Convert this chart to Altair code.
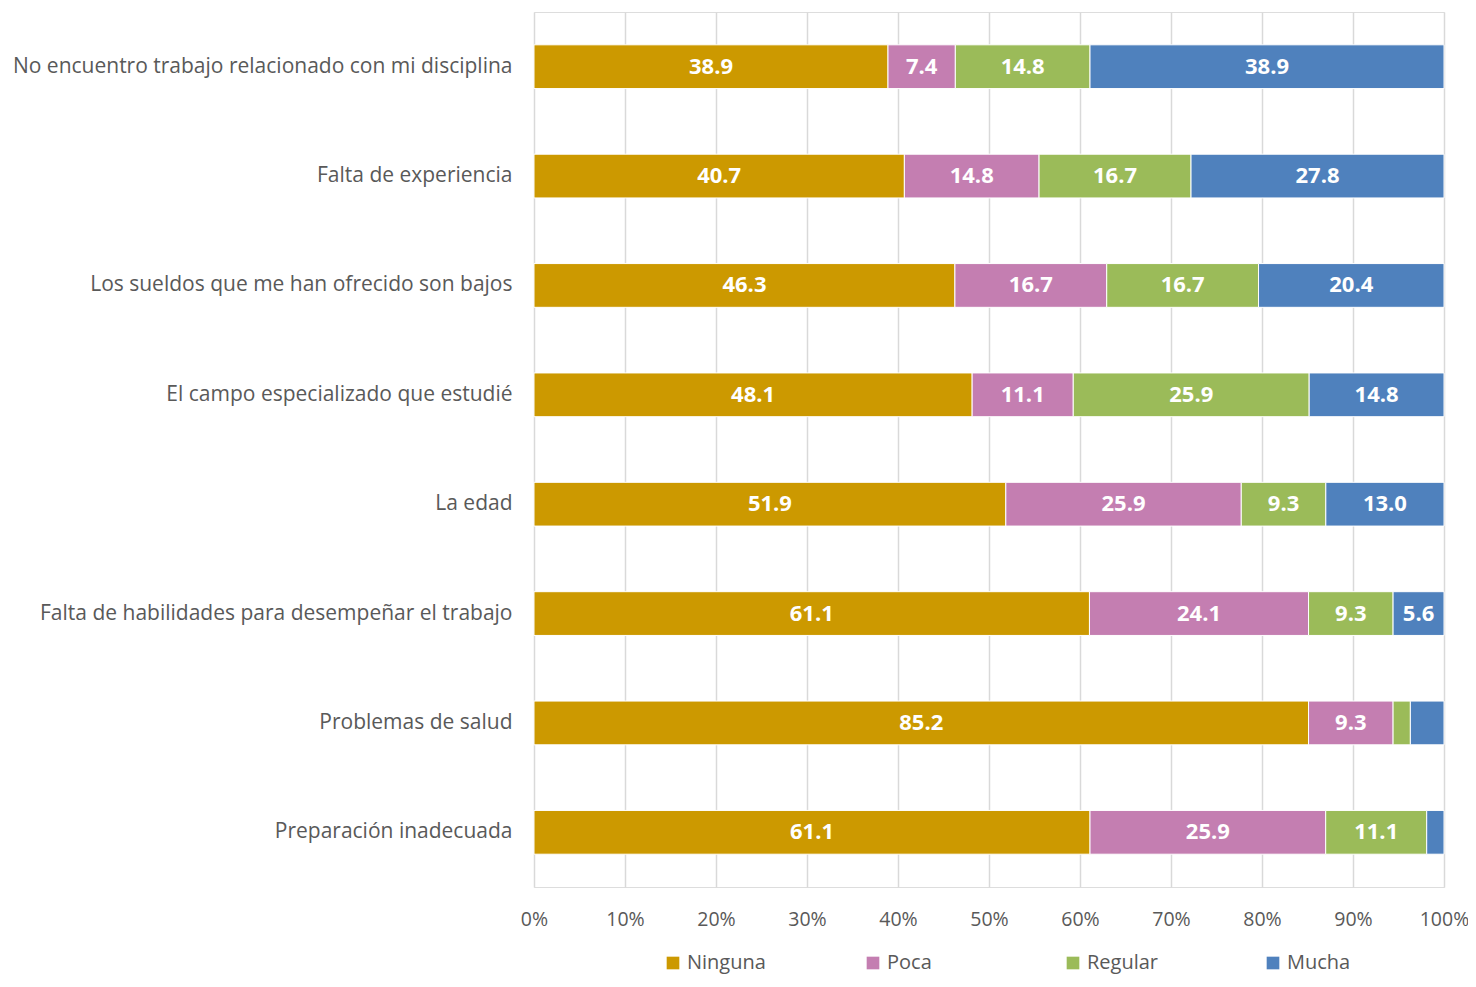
import altair as alt
import pandas as pd

categories = [
    "No encuentro trabajo relacionado con mi disciplina",
    "Falta de experiencia",
    "Los sueldos que me han ofrecido son bajos",
    "El campo especializado que estudié",
    "La edad",
    "Falta de habilidades para desempeñar el trabajo",
    "Problemas de salud",
    "Preparación inadecuada",
]
levels = ["Ninguna", "Poca", "Regular", "Mucha"]
ninguna = [38.9, 40.7, 46.3, 48.1, 51.9, 61.1, 85.2, 61.1]
poca = [7.4, 14.8, 16.7, 11.1, 25.9, 24.1, 9.3, 25.9]
regular = [14.8, 16.7, 16.7, 25.9, 9.3, 9.3, 1.9, 11.1]
mucha = [38.9, 27.8, 20.4, 14.8, 13.0, 5.6, 3.7, 1.9]
colors = ["#CC9900", "#C47EB1", "#9BBB59", "#4F81BD"]

rows = []
for series_idx, (lvl, vals) in enumerate(zip(levels, [ninguna, poca, regular, mucha])):
    for cat, v in zip(categories, vals):
        rows.append({"cat": cat, "level": lvl, "value": v, "ord": series_idx})
df = pd.DataFrame(rows)

FONT = "Open Sans"

base = alt.Chart(df).transform_stack(
    stack="value", groupby=["cat"], as_=["x0", "x1"], offset="normalize",
    sort=[alt.SortField("ord", order="ascending")]
).transform_calculate(mid="(datum.x0 + datum.x1) / 2")

y_enc = alt.Y("cat:N", sort=categories, title=None,
              scale=alt.Scale(paddingInner=0.6, paddingOuter=0.3),
              axis=alt.Axis(labelFont=FONT, labelFontSize=21, labelColor="#595959",
                            labelPadding=22, ticks=False, domain=False, labelLimit=600))

bars = base.mark_bar(stroke="white", strokeWidth=1).encode(
    x=alt.X("x0:Q", scale=alt.Scale(domain=[0, 1], nice=False), title=None,
            axis=alt.Axis(format="%", values=[i / 10 for i in range(11)],
                          labelFont=FONT, labelFontSize=19.5, labelColor="#595959",
                          labelPadding=23, labelFlush=False, ticks=False, domain=False,
                          grid=True, gridColor="#d9d9d9", gridWidth=1.5)),
    x2="x1:Q",
    y=y_enc,
    color=alt.Color("level:N", sort=levels,
                    scale=alt.Scale(domain=levels, range=colors),
                    legend=alt.Legend(title=None, orient="none", legendX=129, legendY=941,
                                      direction="horizontal", columns=4, gridAlign="all",
                                      symbolType="square", symbolSize=160, symbolStrokeWidth=0,
                                      labelFont=FONT, labelFontSize=20, labelColor="#595959",
                                      columnPadding=97, symbolOffset=0, labelOffset=4)),
    order=alt.Order("ord:Q"),
)

labels = base.transform_filter("datum.value >= 5").mark_text(
    color="white", font=FONT, fontSize=22, fontWeight="bold", baseline="middle", align="center"
).encode(
    x=alt.X("mid:Q"),
    y=alt.Y("cat:N", sort=categories),
    text=alt.Text("value:Q", format=".1f"),
)

chart = (bars + labels).properties(
    width=910, height=875,
    autosize=alt.AutoSizeParams(type="none"),
    padding={"left": 526, "top": 4, "right": 24, "bottom": 92},
).configure_view(stroke=None).configure(background="white")

chart.save("out.html", embed_options={"renderer": "svg", "actions": False})
